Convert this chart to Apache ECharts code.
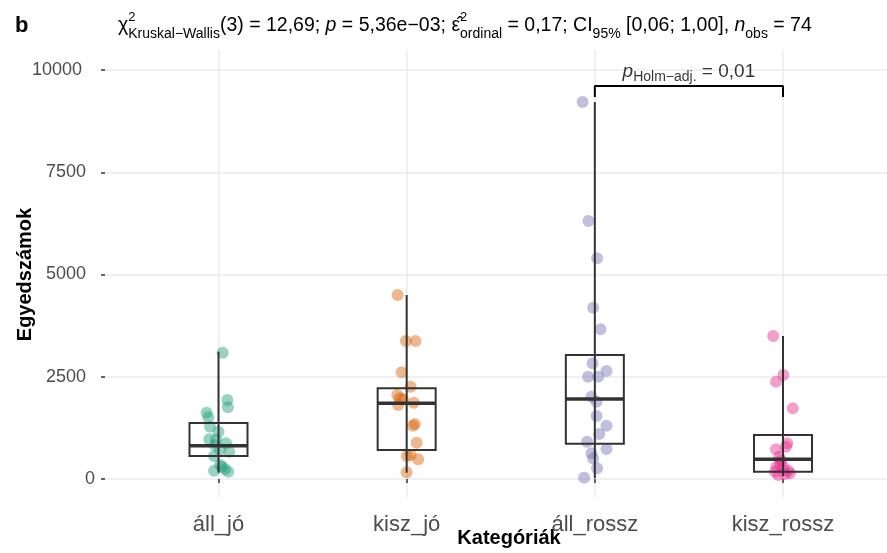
<!DOCTYPE html>
<html><head><meta charset="utf-8">
<script src="https://cdn.jsdelivr.net/npm/echarts@6/dist/echarts.min.js"></script>
<style>html,body{margin:0;padding:0;background:#fff}#c{width:887px;height:553px}</style>
</head><body><div id="c"></div>
<script>
// ---- data ----
const categories = ['áll_jó', 'kisz_jó', 'áll_rossz', 'kisz_rossz'];
const yTicks = [0, 2500, 5000, 7500, 10000];
// box stats: [lower whisker, Q1, median, Q3, upper whisker]
const boxAllJo = [154, 562, 814, 1369, 3112];
const boxKiszJo = [154, 709, 1851, 2218, 4499];
const boxAllRossz = [20, 863, 1956, 3032, 9218];
const boxKiszRossz = [73, 178, 482, 1076, 3496];
// observations: [jitter offset (category units), value]
const ptsAllJo = [[0.022,3088],[0.047,1932],[0.05,1753],[-0.063,1621],[-0.054,1508],[-0.045,1279],[0,1157],[-0.049,970],[-0.013,960],[0.04,872],[-0.019,830],[0.057,667],[0.008,720],[-0.024,560],[0.008,342],[0.035,237],[0.052,178],[-0.024,200],[0.019,300]];
const ptsKiszJo = [[-0.048,4499],[-0.004,3374],[0.047,3374],[-0.027,2609],[0.021,2257],[-0.05,2054],[-0.036,1973],[-0.045,1809],[0.038,1866],[-0.02,1950],[0.044,1345],[0.033,1300],[0.053,888],[0.021,587],[0.001,560],[0.061,482],[0,164]];
const ptsAllRossz = [[-0.065,9218],[-0.034,6308],[0.012,5396],[-0.009,4188],[0.03,3660],[-0.012,2829],[0.062,2641],[-0.036,2501],[0.018,2501],[-0.018,2012],[0.009,1890],[0.009,1540],[0.062,1303],[0.023,1100],[-0.041,912],[0.062,733],[-0.018,628],[-0.009,506],[0.012,262],[-0.057,32]];
const ptsKiszRossz = [[-0.052,3496],[0.002,2543],[-0.037,2379],[0.052,1729],[0.023,873],[0.016,790],[-0.037,726],[-0.02,545],[-0.011,450],[-0.016,342],[-0.034,301],[0.002,301],[0.027,200],[-0.043,180],[0.037,139],[0.011,122],[-0.025,98]];
// pairwise comparison bracket: [from group, to group, leg bottom, top]
const bracket = [2, 3, 9340, 9609];
const bracketLabel = 'Holm−adj.';
const bracketP = '0,01';

const groupColors = ['#1B9E77', '#D95F02', '#7570B3', '#E7298A'];
const boxes = [boxAllJo, boxKiszJo, boxAllRossz, boxKiszRossz];
const pts = [ptsAllJo, ptsKiszJo, ptsAllRossz, ptsKiszRossz];
const F = '"Liberation Sans", Arial, Helvetica, sans-serif';

const chart = echarts.init(document.getElementById('c'));

const scatterSeries = pts.map((g, i) => ({
  type: 'scatter', xAxisIndex: 2, yAxisIndex: 1, clip: false, z: 2,
  symbolSize: 12, itemStyle: { color: groupColors[i], opacity: 0.45 },
  data: g.map(p => [i + p[0], p[1]])
}));

const boxSeries = {
  type: 'custom', xAxisIndex: 1, yAxisIndex: 1, z: 5, clip: false,
  data: boxes.map((b, i) => [i].concat(b)),
  renderItem(params, api) {
    const x = api.value(0);
    const lo = api.coord([x, api.value(1)]);
    const q1 = api.coord([x, api.value(2)]);
    const md = api.coord([x, api.value(3)]);
    const q3 = api.coord([x, api.value(4)]);
    const up = api.coord([x, api.value(5)]);
    const h = 29;
    const st = { stroke: '#333333', lineWidth: 2, fill: null };
    return { type: 'group', children: [
      { type: 'line', shape: { x1: lo[0], y1: lo[1], x2: up[0], y2: up[1] }, style: st },
      { type: 'rect', shape: { x: q3[0] - h, y: q3[1], width: 2 * h, height: q1[1] - q3[1] }, style: { stroke: '#333333', lineWidth: 2, fill: 'rgba(0,0,0,0)' } },
      { type: 'line', shape: { x1: md[0] - h, y1: md[1], x2: md[0] + h, y2: md[1] }, style: { stroke: '#333333', lineWidth: 3.5 } }
    ]};
  }
};

const bracketSeries = {
  type: 'line', xAxisIndex: 2, yAxisIndex: 1, clip: false, z: 6, symbol: 'none',
  lineStyle: { color: '#000', width: 2 },
  data: [[bracket[0], bracket[2]], [bracket[0], bracket[3]], [bracket[1], bracket[3]], [bracket[1], bracket[2]]]
};
const bracketTextSeries = {
  type: 'scatter', xAxisIndex: 2, yAxisIndex: 1, clip: false, z: 6, symbolSize: 1,
  itemStyle: { color: 'rgba(0,0,0,0)' },
  data: [[(bracket[0] + bracket[1]) / 2, bracket[3]]],
  label: {
    show: true, position: 'top', distance: 1,
    formatter: '{i|p}{s|' + bracketLabel + '}{m| = ' + bracketP + '}',
    rich: {
      i: { fontFamily: F, fontSize: 19, fontStyle: 'italic', fontWeight: 'normal', color: '#000', lineHeight: 26 },
      s: { fontFamily: F, fontSize: 14, fontWeight: 'normal', color: '#000', lineHeight: 16, verticalAlign: 'bottom' },
      m: { fontFamily: F, fontSize: 19, fontWeight: 'normal', color: '#000', lineHeight: 26 }
    }
  }
};

const mainR = { fontFamily: F, fontSize: 19.5, fontWeight: 'normal', color: '#000', lineHeight: 30 };
const option = {
  animation: false,
  backgroundColor: '#fff',
  title: [
    { text: 'b', left: 10, top: 10, textStyle: { fontFamily: F, fontSize: 22, fontWeight: 'bold', color: '#000' } },
    { left: 113, top: 6,
      text: '{m|χ}{sup|2}{s|Kruskal−Wallis}{m|(3) = 12,69; }{i|p}{m| = 5,36e−03; }{m|ε̂}{sup|2}{s|ordinal}{m| = 0,17; CI}{s|95%}{m| [0,06; 1,00], }{i|n}{s|obs}{m| = 74}',
      textStyle: { fontFamily: F, fontSize: 19.5, fontWeight: 'normal', color: '#000', rich: {
        m: mainR,
        i: Object.assign({}, mainR, { fontStyle: 'italic' }),
        s: { fontFamily: F, fontSize: 14, fontWeight: 'normal', color: '#000', lineHeight: 16, verticalAlign: 'bottom' },
        sup: { fontFamily: F, fontSize: 13, fontWeight: 'normal', color: '#000', lineHeight: 14, verticalAlign: 'top', width: 0.01 }
      } } }
  ],
  grid: [
    { left: 105, right: -26, top: 70, bottom: 74, outerBoundsMode: 'none', containLabel: false },
    { left: 218.5, right: 104, top: 50, bottom: 56, outerBoundsMode: 'none', containLabel: false }
  ],
  xAxis: [
    { gridIndex: 0, type: 'value', min: 0, max: 1,
      axisLine: { show: false }, axisTick: { show: false }, axisLabel: { show: false }, splitLine: { show: false },
      name: 'Kategóriák', nameLocation: 'middle', nameGap: 49, nameMoveOverlap: false,
      nameTextStyle: { fontFamily: F, fontSize: 20, fontWeight: 'bold', color: '#000' } },
    { gridIndex: 1, type: 'category', data: categories, boundaryGap: false,
      axisLine: { show: false },
      axisTick: { show: true, length: 4, lineStyle: { color: '#333', width: 1.5 } },
      axisLabel: { fontFamily: F, fontSize: 22, color: '#4d4d4d', margin: 17 },
      splitLine: { show: true, lineStyle: { color: '#ebebeb', width: 1.5 } } },
    { gridIndex: 1, type: 'value', min: 0, max: 3, show: false }
  ],
  yAxis: [
    { gridIndex: 0, type: 'value', min: yTicks[0], max: yTicks[yTicks.length - 1], interval: 2500,
      axisLine: { show: false },
      axisTick: { show: true, length: 4, lineStyle: { color: '#333', width: 1.5 } },
      axisLabel: { margin: 10, fontFamily: F, fontSize: 18, color: '#4d4d4d',
        formatter: v => { const s = String(v); return s.length === 1 ? s : '{p' + s.length + '|' + s + '}'; },
        rich: {
          p4: { fontFamily: F, fontSize: 18, color: '#4d4d4d', padding: [0, 9, 0, 0] },
          p5: { fontFamily: F, fontSize: 18, color: '#4d4d4d', padding: [0, 13, 0, 0] }
        } },
      splitLine: { show: true, lineStyle: { color: '#ebebeb', width: 1.5 } },
      name: 'Egyedszámok', nameLocation: 'middle', nameGap: 70, nameMoveOverlap: false,
      nameTextStyle: { fontFamily: F, fontSize: 20, fontWeight: 'bold', color: '#000' } },
    { gridIndex: 1, type: 'value', min: -440, max: 10490, show: false }
  ],
  series: scatterSeries.concat([boxSeries, bracketSeries, bracketTextSeries])
};
chart.setOption(option);
</script></body></html>
